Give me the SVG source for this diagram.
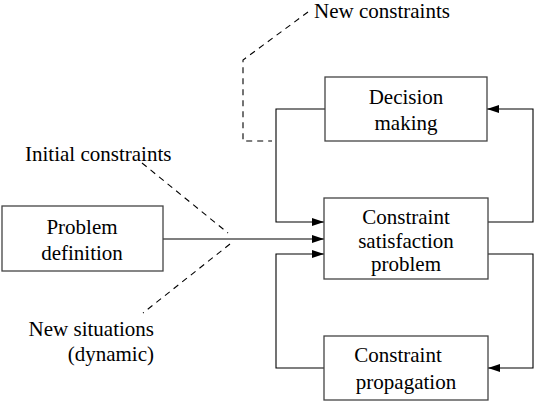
<svg xmlns="http://www.w3.org/2000/svg" width="540" height="402" viewBox="0 0 540 402">
<style>
.box{fill:#fff;stroke:#444;stroke-width:1.3}
.ln{fill:none;stroke:#000;stroke-width:1.1}
.dash{fill:none;stroke:#000;stroke-width:1.1;stroke-dasharray:6,5}
text{font-family:"Liberation Serif","Times New Roman",serif;font-size:21px;fill:#000}
.c{text-anchor:middle}
.e{text-anchor:end}
</style>
<defs>
<marker id="ah" viewBox="0 0 12 8" refX="12" refY="4" markerWidth="12" markerHeight="8" markerUnits="userSpaceOnUse" orient="auto">
<path d="M0,0 L12,4 L0,8 Z" fill="#000"/>
</marker>
</defs>
<rect width="540" height="402" fill="#fff"/>
<g id="connectors">
<line class="ln" x1="163" y1="239" x2="324" y2="239" marker-end="url(#ah)"/>
<polyline class="ln" points="325,109 276,109 276,222 324,222" marker-end="url(#ah)"/>
<polyline class="ln" points="324,368 276,368 276,254 324,254" marker-end="url(#ah)"/>
<polyline class="ln" points="488,222 533,222 533,109 487,109" marker-end="url(#ah)"/>
<polyline class="ln" points="488,254 533,254 533,368 488,368" marker-end="url(#ah)"/>
<polyline class="dash" points="308,12 243,60 243,141 272,141"/>
<line class="dash" x1="142" y1="163" x2="228" y2="233"/>
<line class="dash" x1="230" y1="244" x2="143" y2="313"/>
</g>
<g id="problem-definition">
<rect class="box" x="2" y="206" width="161" height="65"/>
<text class="c" x="82" y="234">Problem</text>
<text class="c" x="82" y="260">definition</text>
</g>
<g id="decision-making">
<rect class="box" x="325" y="77" width="162" height="64"/>
<text class="c" x="406" y="104">Decision</text>
<text class="c" x="406" y="130">making</text>
</g>
<g id="csp">
<rect class="box" x="324" y="198" width="164" height="81"/>
<text class="c" x="406" y="224">Constraint</text>
<text class="c" x="406" y="248">satisfaction</text>
<text class="c" x="406" y="271">problem</text>
</g>
<g id="constraint-propagation">
<rect class="box" x="324" y="336" width="164" height="64"/>
<text class="c" x="398" y="362">Constraint</text>
<text class="c" x="406" y="389">propagation</text>
</g>
<g id="labels">
<text x="314" y="18">New constraints</text>
<text x="25" y="161">Initial constraints</text>
<text class="e" x="154" y="336">New situations</text>
<text class="e" x="154" y="361">(dynamic)</text>
</g>
</svg>
